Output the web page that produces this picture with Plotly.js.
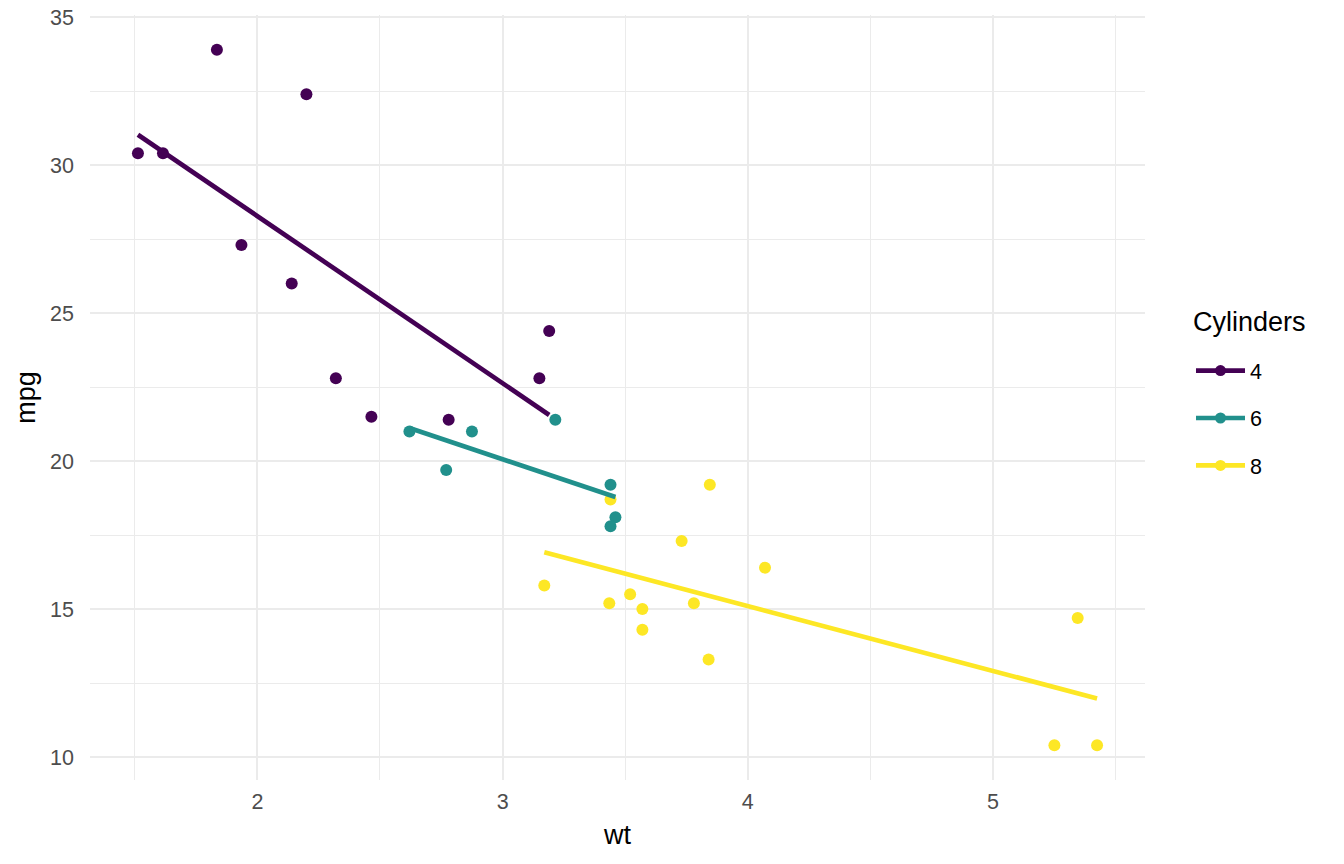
<!DOCTYPE html>
<html>
<head>
<meta charset="utf-8">
<script src="https://cdn.plot.ly/plotly-3.0.1.min.js"></script>
<style>
  html, body { margin: 0; padding: 0; background: #ffffff; }
  #chart { width: 1344px; height: 864px; }
</style>
</head>
<body>
<div id="chart"></div>
<script>
// Car weight (1000 lbs) and fuel economy, grouped by cylinder count
const wt4  = [2.320, 3.190, 3.150, 2.200, 1.615, 1.835, 2.465, 1.935, 2.140, 1.513, 2.780];
const mpg4 = [22.8, 24.4, 22.8, 32.4, 30.4, 33.9, 21.5, 27.3, 26.0, 30.4, 21.4];

const wt6  = [2.620, 2.875, 3.215, 3.460, 3.440, 3.440, 2.770];
const mpg6 = [21.0, 21.0, 21.4, 18.1, 19.2, 17.8, 19.7];

const wt8  = [3.440, 3.570, 4.070, 3.730, 3.780, 5.250, 5.424, 5.345, 3.520, 3.435, 3.840, 3.845, 3.170, 3.570];
const mpg8 = [18.7, 14.3, 16.4, 17.3, 15.2, 10.4, 10.4, 14.7, 15.5, 15.2, 13.3, 19.2, 15.8, 15.0];

// Linear fit endpoints per group (over each group's weight range)
const fit4X = [1.513, 3.190], fit4Y = [31.03, 21.56];
const fit6X = [2.620, 3.460], fit6Y = [21.12, 18.79];
const fit8X = [3.170, 5.424], fit8Y = [16.92, 11.98];

const groups = ['4', '6', '8'];
const colors = ['#440154', '#21908C', '#FDE725'];

const pts = [[wt4, mpg4], [wt6, mpg6], [wt8, mpg8]];
const fits = [[fit4X, fit4Y], [fit6X, fit6Y], [fit8X, fit8Y]];

const MARKER = 12, LINE_W = 4.7;

const traces = [];
pts.forEach((p, i) => {
  traces.push({
    x: p[0], y: p[1], type: 'scatter', mode: 'markers',
    marker: { color: colors[i], size: MARKER },
    showlegend: false, hoverinfo: 'x+y'
  });
});
fits.forEach((f, i) => {
  traces.push({
    x: f[0], y: f[1], type: 'scatter', mode: 'lines',
    line: { color: colors[i], width: LINE_W },
    showlegend: false, hoverinfo: 'skip'
  });
});
// legend keys: line with a point on it
groups.forEach((g, i) => {
  traces.push({
    x: [null], y: [null], type: 'scatter', mode: 'lines+markers',
    name: g, legendgroup: 'g' + g,
    line: { color: colors[i], width: LINE_W },
    marker: { color: colors[i], size: MARKER - 1 }
  });
});

const FAMILY = 'Liberation Sans, Arial, sans-serif';
const tickFont = { family: FAMILY, size: 21.5, color: '#4D4D4D' };
const titleFont = { family: FAMILY, size: 27, color: '#000000' };

const layout = {
  width: 1344, height: 864,
  paper_bgcolor: '#ffffff', plot_bgcolor: '#ffffff',
  margin: { l: 90, r: 199, t: 15, b: 84 },
  font: { family: FAMILY },
  xaxis: {
    range: [1.3175, 5.6195],
    tickvals: [2, 3, 4, 5], ticktext: ['2', '3', '4', '5'],
    showgrid: true, gridcolor: '#EBEBEB', gridwidth: 2,
    minor: { tickvals: [1.5, 2.5, 3.5, 4.5, 5.5], showgrid: true, gridcolor: '#EBEBEB', gridwidth: 1 },
    zeroline: false, showline: false, ticks: '',
    tickfont: tickFont, ticklabelstandoff: 6,
    title: { text: 'wt', font: titleFont, standoff: 12 }
  },
  yaxis: {
    range: [9.225, 35.075],
    tickvals: [10, 15, 20, 25, 30, 35], ticktext: ['10', '15', '20', '25', '30', '35'],
    showgrid: true, gridcolor: '#EBEBEB', gridwidth: 2,
    minor: { tickvals: [12.5, 17.5, 22.5, 27.5, 32.5], showgrid: true, gridcolor: '#EBEBEB', gridwidth: 1 },
    zeroline: false, showline: false, ticks: '',
    tickfont: tickFont, ticklabelstandoff: 15,
    title: { text: 'mpg', font: titleFont, standoff: 6 }
  },
  legend: {
    x: 1.0436, xanchor: 'left', y: 0.562, yanchor: 'top',
    font: { family: FAMILY, size: 21.5, color: '#000000' },
    tracegroupgap: 16.5,
    itemwidth: 49
  },
  annotations: [{
    text: 'Cylinders', xref: 'paper', yref: 'paper',
    x: 1.0436, y: 1 - (322 - 15) / 765, xanchor: 'left', yanchor: 'middle',
    showarrow: false, font: titleFont
  }],
  showlegend: true
};

Plotly.newPlot('chart', traces, layout, { displayModeBar: false, staticPlot: true });
</script>
</body>
</html>
